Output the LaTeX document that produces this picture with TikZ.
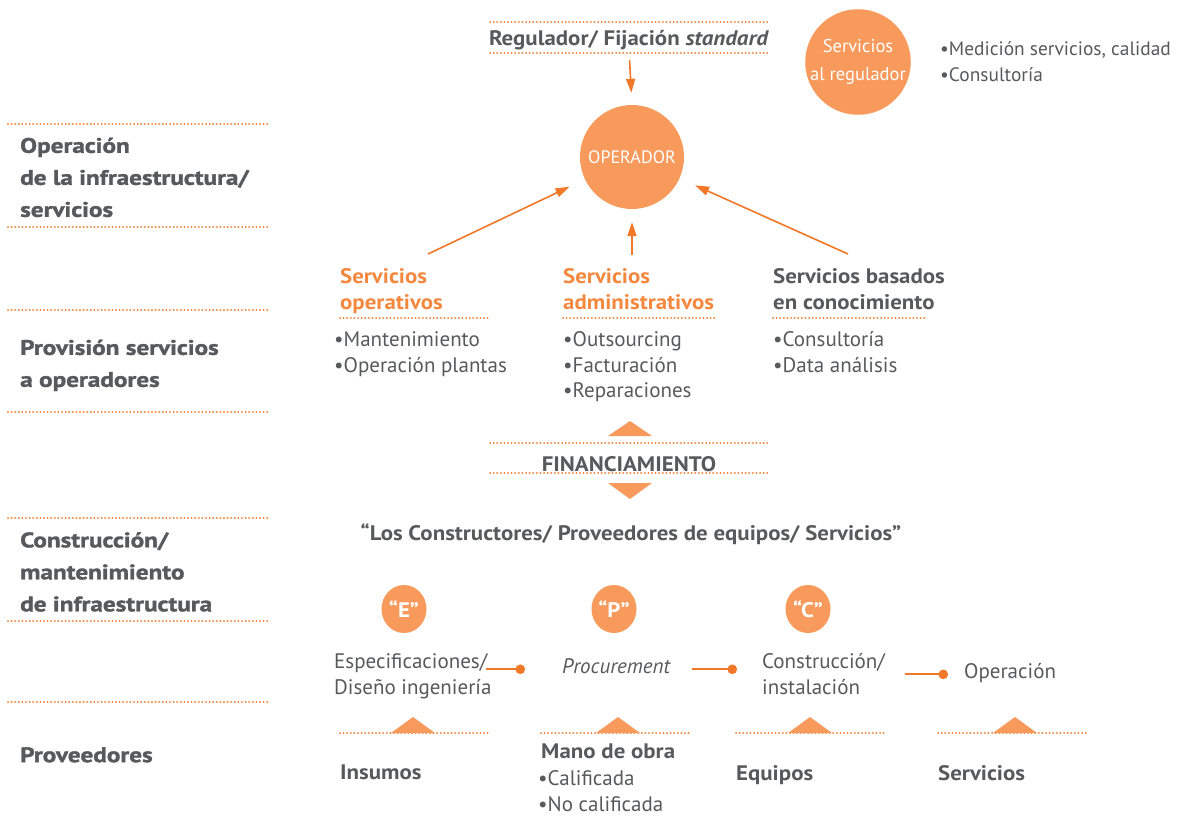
\documentclass[tikz,border=0pt]{standalone}
\usepackage{fontspec}
\setmainfont{PT Sans}
\newfontfamily\negra{PT Sans}[FakeStretch=1.09]
\newfontfamily\pesada{PT Sans}[FakeStretch=1.2, BoldFeatures={FakeBold=1.6}]
\usetikzlibrary{arrows.meta}

\definecolor{naranja}{HTML}{F07828}
\definecolor{relleno}{HTML}{F79A5C}
\definecolor{titnar}{HTML}{F3883E}
\definecolor{gris}{HTML}{58595B}

\tikzset{
  puntos/.style={naranja, line width=2pt, line cap=round, dash pattern=on 0pt off 3.6pt},
  flecha/.style={naranja, line width=1.6pt, -{Triangle[length=14pt,width=9pt]}},
  enlace/.style={naranja, line width=2.2pt, -{Circle[length=9.5pt]}},
  circulo/.style={circle, fill=relleno, text=white, inner sep=0pt, align=center},
  letra/.style={ellipse, fill=relleno, text=white, inner sep=0pt, minimum width=45pt,
    minimum height=48pt, font=\fontsize{21}{24}\selectfont\negra\bfseries},
  texto/.style={anchor=north west, inner sep=0pt, text=gris, align=left,
    font=\fontsize{21}{25.5}\selectfont},
  negrita/.style={texto, font=\fontsize{21}{26}\selectfont\negra\bfseries},
  izq/.style={texto, font=\fontsize{21}{32}\selectfont\pesada\bfseries},
  tnar/.style={negrita, text=titnar},
  titulo/.style={inner sep=0pt, text=gris, font=\fontsize{21}{24}\selectfont\negra\bfseries},
}
\usetikzlibrary{shapes.geometric}

\begin{document}
\begin{tikzpicture}[x=1pt, y=-1pt]
\useasboundingbox (0,0) rectangle (1180,827);

% franjas de la izquierda
\draw[puntos] (8,124) -- (268,124);
\draw[puntos] (8,227) -- (268,227);
\draw[puntos] (8,310) -- (268,310);
\draw[puntos] (8,412) -- (268,412);
\draw[puntos] (8,518) -- (268,518);
\draw[puntos] (8,621) -- (268,621);
\draw[puntos] (8,702) -- (268,702);
\node[izq] (operacion) at (20,137.5) {Operación\\de la infraestructura/\\servicios};
\node[izq] (provision) at (20,339.5) {Provisión servicios\\a operadores};
\node[izq] (construccion) at (20,532) {Construcción/\\mantenimiento\\de infraestructura};
\node[izq] (proveedores) at (20,747) {Proveedores};

% regulador y operador
\draw[puntos] (490,22) -- (768,22);
\draw[puntos] (490,53) -- (768,53);
\node[titulo] (regulador) at (629,40) {Regulador/ Fijación \textit{standard}};
\node[circulo, minimum size=104pt, font=\fontsize{18}{20}\selectfont] (operador) at (632,157) {OPERADOR};
\node[circulo, minimum size=104pt, font=\fontsize{18.5}{28}\selectfont] (servreg) at (858,62) {Servicios\\al regulador};
\node[texto, font=\fontsize{19.4}{26}\selectfont] (servreglista) at (940,41) {•Medición servicios, calidad\\•Consultoría};
\draw[flecha, shorten <=10pt, shorten >=12pt] (regulador.south) -- (operador.north);

% servicios a operadores
\node[tnar] (opertit) at (340,268.5) {Servicios\\operativos};
\node[tnar] (admtit) at (563,268.5) {Servicios\\administrativos};
\node[negrita] (contit) at (773,268.5) {Servicios basados\\en conocimiento};
\draw[puntos] (340,318) -- (490,318);
\draw[puntos] (563,318) -- (717,318);
\draw[puntos] (773,318) -- (925,318);
\node[texto] (operlista) at (334,331.5) {•Mantenimiento\\•Operación plantas};
\node[texto] (admlista) at (563,331.5) {•Outsourcing\\•Facturación\\•Reparaciones};
\node[texto] (conlista) at (773,331.5) {•Consultoría\\•Data análisis};
\coordinate (c1) at (428,254);
\coordinate (c2) at (632,255);
\coordinate (c3) at (848,254);
\draw[flecha, shorten >=17pt] (c1) -- (operador);
\draw[flecha, shorten >=13pt] (c2) -- (operador);
\draw[flecha, shorten >=17pt] (c3) -- (operador);

% financiamiento
\draw[puntos] (490,443) -- (768,443);
\draw[puntos] (490,473) -- (768,473);
\fill[relleno] (608,436) -- (630,421) -- (652,436) -- cycle;
\fill[relleno] (608,483) -- (630,499) -- (652,483) -- cycle;
\node[titulo] (financ) at (629,464) {FINANCIAMIENTO};

% constructores
\node[titulo] (constructores) at (631,534) {“Los Constructores/ Proveedores de equipos/ Servicios”};
\node[letra] (e) at (404,609) {“E”};
\node[letra] (p) at (614,609) {“P”};
\node[letra] (c) at (808,609) {“C”};
\node[texto] (espec) at (334,653.5) {Especificaciones/\\Diseño ingeniería};
\node[texto, font=\fontsize{21}{25.5}\selectfont\itshape] (procur) at (562,658.5) {Procurement};
\node[texto] (constr) at (762,653.5) {Construcción/\\instalación};
\node[texto] (oper) at (964,663.5) {Operación};
\draw[enlace] ([xshift=-6pt,yshift=-3pt]espec.east |- procur.west) -- ([xshift=-37pt,yshift=-3pt]procur.west);
\draw[enlace] ([xshift=22pt,yshift=-3pt]procur.east) -- ([xshift=-25pt,yshift=-3pt]constr.west |- procur.east);
\draw[enlace] ([xshift=20pt,yshift=-1pt]constr.east |- oper.west) -- ([xshift=-16pt,yshift=-1pt]oper.west);

% proveedores
\foreach \x/\t in {340/413, 541/618, 736/810, 938/1015}{
  \draw[puntos] (\x,733) -- (\x+150,733);
  \fill[relleno] (\t-22,733) -- (\t,717) -- (\t+22,733) -- cycle;
}
\node[negrita] (insumos) at (340,765) {Insumos};
\node[negrita] (manoobra) at (541,743.5) {Mano de obra};
\node[texto] (manolista) at (538,770.5) {•Calificada\\•No calificada};
\node[negrita] (equipos) at (736,765) {Equipos};
\node[negrita] (servicios) at (938,765) {Servicios};
\end{tikzpicture}
\end{document}
